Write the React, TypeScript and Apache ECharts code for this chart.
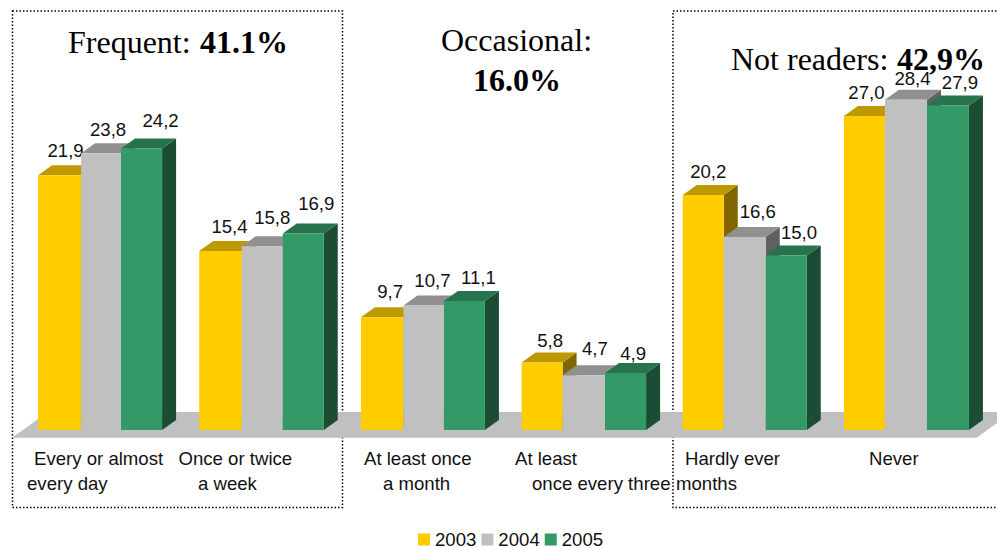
import React, { useEffect, useRef } from "react";
import * as echarts from "echarts";

const categories = ["Every or almost every day", "Once or twice a week", "At least once a month", "At least once every three months", "Hardly ever", "Never"];
const years = ["2003", "2004", "2005"];
const values2003 = [21.9, 15.4, 9.7, 5.8, 20.2, 27.0];
const values2004 = [23.8, 15.8, 10.7, 4.7, 16.6, 28.4];
const values2005 = [24.2, 16.9, 11.1, 4.9, 15.0, 27.9];
const seriesValues = [values2003, values2004, values2005];

const fronts = ["#FFCC00", "#C0C0C0", "#339966"];
const tops = ["#BF9900", "#909090", "#26734D"];
const sides = ["#806600", "#606060", "#1A4D33"];
const firstEdge = [-62, -62, -61.5, -62, -62, -62];
const secondEdge = [-19, -19.5, -19, -21, -21, -21];
const thirdEdge = [21, 21.5, 21.5, 21.5, 21, 21];
const lastEdge = [62, 62.5, 62.5, 62.5, 62, 63];
const edgeSets = [firstEdge, secondEdge, thirdEdge, lastEdge];
const DX = 14;
const DY = 10;
const labelDx = [
  [6, 9, 8, 8, 5, 2],
  [7, 10, 8.8, 11, 13, 6.6],
  [19, 13, 14, 7.6, 12.75, 12],
];
const labelDy = [
  [-25, -24, -26, -22.5, -24, -23],
  [-24, -29, -24.6, -27, -25, -21.7],
  [-27.6, -29.5, -23, -20, -23.5, -23.5],
];

const SANS = "'Liberation Sans', Arial, sans-serif";
const SERIF = "'Liberation Serif', 'Times New Roman', serif";

const axisLines: [string, number, number][] = [
  ["Every or almost", 34, 458],
  ["every day", 27, 483],
  ["Once or twice", 178.5, 458],
  ["a week", 198, 483],
  ["At least once", 364, 458],
  ["a month", 383, 483],
  ["At least", 515, 458],
  ["once every three", 532, 483],
  ["months", 676, 483],
  ["Hardly ever", 685, 458],
  ["Never", 869, 458],
];

const titles: [string, number, number, string][] = [
  ["Frequent: ", 68, 41.5, "normal"],
  ["41.1%", 200, 41.5, "bold"],
  ["Occasional:", 441, 40, "normal"],
  ["16.0%", 473, 79.5, "bold"],
  ["Not readers: ", 731, 58.5, "normal"],
  ["42,9%", 897, 58.5, "bold"],
];

function makeSeries(si: number) {
  return {
    type: "custom",
    name: years[si],
    itemStyle: { color: fronts[si] },
    clip: false,
    z: 5 + si,
    data: seriesValues[si].map((v, i) => [i, v]),
    encode: { x: 0, y: 1 },
    renderItem: (_p: any, api: any) => {
      const idx = api.value(0);
      const val = api.value(1);
      const [cx, yTop] = api.coord([idx, val]);
      const [, y0] = api.coord([idx, 0]);
      const x0 = cx + edgeSets[si][idx];
      const x1 = cx + edgeSets[si + 1][idx];
      return {
        type: "group",
        children: [
          { type: "polygon", shape: { points: [[x1, yTop], [x1 + DX, yTop - DY], [x1 + DX, y0 - DY], [x1, y0]] }, style: { fill: sides[si] } },
          { type: "polygon", shape: { points: [[x0, yTop], [x0 + DX, yTop - DY], [x1 + DX, yTop - DY], [x1, yTop]] }, style: { fill: tops[si] } },
          { type: "rect", shape: { x: x0, y: yTop, width: x1 - x0, height: y0 - yTop }, style: { fill: fronts[si] } },
          {
            type: "text",
            z2: 50,
            style: {
              text: val.toFixed(1).replace(".", ","),
              x: cx + (edgeSets[si][idx] + edgeSets[si + 1][idx]) / 2 + labelDx[si][idx],
              y: yTop + labelDy[si][idx],
              align: "center",
              verticalAlign: "middle",
              fill: "#111",
              font: `18.6px ${SANS}`,
            },
          },
        ],
      };
    },
  };
}

export default function App() {
  const ref = useRef<HTMLDivElement>(null);
  useEffect(() => {
    const chart = echarts.init(ref.current!, undefined, { renderer: "svg" });
    chart.setOption({
      animation: false,
      backgroundColor: "#fff",
      grid: { left: 19.5, width: 967, top: 11.32, height: 418.68 },
      xAxis: { type: "category", data: categories, axisLine: { show: false }, axisTick: { show: false }, axisLabel: { show: false }, splitLine: { show: false } },
      yAxis: { type: "value", min: 0, max: 36, interval: 6, show: false, splitLine: { show: false } },
      legend: {
        data: years,
        left: 418,
        top: 530,
        padding: 0,
        icon: "rect",
        itemWidth: 12,
        itemHeight: 12,
        itemGap: 5,
        textStyle: { fontFamily: SANS, fontSize: 18.6, lineHeight: 18, color: "#111" },
      },
      series: seriesValues.map((_, i) => makeSeries(i)),
      graphic: [
        { type: "rect", z: 0, shape: { x: 12.5, y: 11, width: 330, height: 496.5 }, style: { fill: "none", stroke: "#000", lineWidth: 1.5, lineDash: [1.5, 2] } },
        { type: "rect", z: 0, shape: { x: 673, y: 11, width: 340, height: 496.5 }, style: { fill: "none", stroke: "#000", lineWidth: 1.5, lineDash: [1.5, 2] } },
        { type: "polygon", z: 1, shape: { points: [[12, 437.7], [48, 412], [1012, 412], [976.7, 437.7]] }, style: { fill: "#C0C0C0" } },
        ...axisLines.map(([text, x, y]) => ({
          type: "text", z: 20, style: { text, x, y, verticalAlign: "middle", fill: "#111", font: `18.6px ${SANS}` },
        })),
        ...titles.map(([text, x, y, weight]) => ({
          type: "text", z: 30, style: { text, x, y, verticalAlign: "middle", fill: "#000", font: `${weight} 32px ${SERIF}` },
        })),
      ],
    });
    return () => chart.dispose();
  }, []);
  return <div ref={ref} style={{ position: "fixed", left: 0, top: 0, width: 997, height: 548 }} />;
}
